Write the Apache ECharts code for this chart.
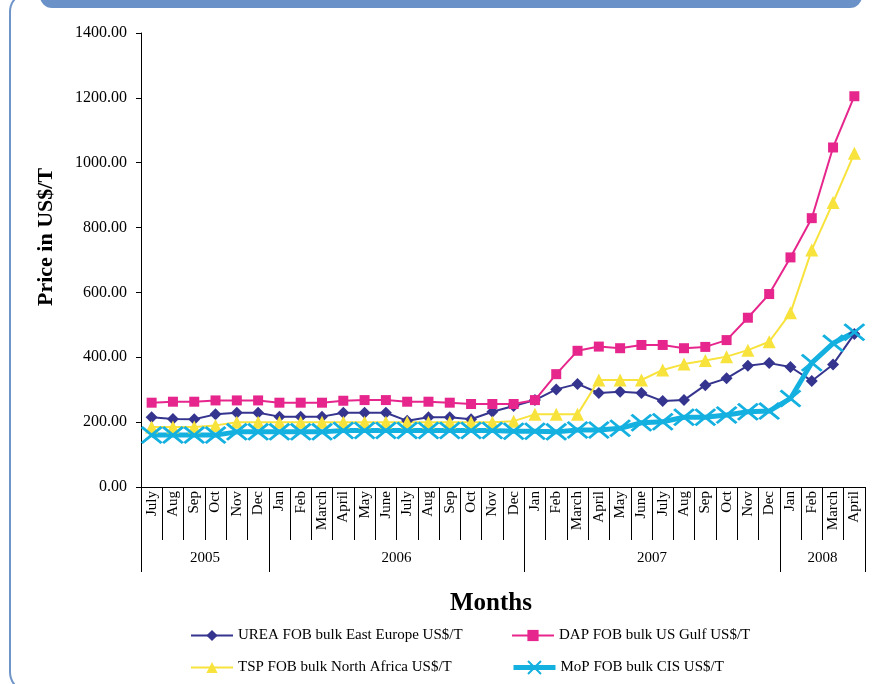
<!DOCTYPE html>
<html>
<head>
<meta charset="utf-8">
<script src="https://cdn.jsdelivr.net/npm/echarts@6/dist/echarts.min.js"></script>
<style>
  html, body { margin: 0; padding: 0; background: #ffffff; }
  #chart { width: 878px; height: 684px; }
</style>
</head>
<body>
<div id="chart"></div>
<script>
// Monthly categories, July 2005 to April 2008
const months = ['July','Aug','Sep','Oct','Nov','Dec',
  'Jan','Feb','March','April','May','June','July','Aug','Sep','Oct','Nov','Dec',
  'Jan','Feb','March','April','May','June','July','Aug','Sep','Oct','Nov','Dec',
  'Jan','Feb','March','April'];

// Year groups: label, first month index, month count
const yearNames = ['2005', '2006', '2007', '2008'];
const yearStarts = [0, 6, 18, 30];
const yearLengths = [6, 12, 12, 4];

const yTicks = [0, 200, 400, 600, 800, 1000, 1200, 1400];

const seriesNames = [
  'UREA FOB bulk East Europe US$/T',
  'DAP FOB bulk US Gulf US$/T',
  'TSP FOB bulk North Africa US$/T',
  'MoP FOB bulk CIS US$/T'
];

const urea = [215,210,209,224,229,229,217,217,217,229,229,229,204,215,215,209,232,250,
  268,301,318,290,294,290,265,268,314,335,374,382,370,327,378,472];
const dap = [260,263,263,267,267,267,260,260,260,266,268,268,263,263,260,256,256,256,
  268,348,420,433,428,438,438,428,432,453,522,595,708,829,1047,1205];
const tsp = [185,185,185,190,200,200,200,200,200,200,200,200,200,200,200,200,200,203,
  224,224,224,330,330,330,361,379,390,402,422,448,537,731,877,1029];
const mop = [160,160,160,160,170,170,170,170,170,174,174,174,174,174,174,174,174,172,
  172,170,176,176,181,198,201,215,215,222,232,234,273,383,443,477];

const SERIF = 'Liberation Serif';
const crossPath = 'path://M0,1 L1,0 L5,4 L9,0 L10,1 L6,5 L10,9 L9,10 L5,6 L1,10 L0,9 L4,5 Z';

// boundaries between years and the centre of each year span
const yearBounds = yearStarts.concat([yearStarts[3] + yearLengths[3]]);
const yearCentres = yearStarts.map((s, i) => s + yearLengths[i] / 2);

// legend placement: two columns, two rows
const legendSlots = [
  { left: 190, top: 628, h: 14, lw: 2 },
  { left: 511, top: 628, h: 14, lw: 2 },
  { left: 190, top: 660, h: 14, lw: 2 },
  { left: 511, top: 660, h: 18, lw: 5 }
];

const chart = echarts.init(document.getElementById('chart'));

chart.setOption({
  animation: false,
  backgroundColor: '#ffffff',
  textStyle: { fontFamily: SERIF, color: '#000' },
  grid: { left: 141, right: 13, top: 33, bottom: 197, containLabel: false },
  graphic: [
    {
      type: 'rect', z: -1,
      shape: { x: 40, y: -20, width: 822, height: 28, r: 12 },
      style: { fill: '#6a92c8' }
    },
    {
      type: 'rect', z: -1,
      shape: { x: 10, y: -8, width: 900, height: 700, r: 20 },
      style: { fill: 'none', stroke: '#6f95c9', lineWidth: 2 }
    },
    {
      type: 'text',
      x: 46, y: 237, rotation: Math.PI / 2,
      style: {
        text: 'Price in US$/T',
        font: 'bold 22px "Liberation Serif"',
        fill: '#000',
        align: 'center', verticalAlign: 'middle'
      }
    }
  ],
  legend: seriesNames.map((name, i) => ({
    data: [name],
    orient: 'horizontal',
    left: legendSlots[i].left, top: legendSlots[i].top,
    padding: 0,
    itemWidth: 42, itemHeight: legendSlots[i].h,
    lineStyle: { width: legendSlots[i].lw },
    textStyle: { fontFamily: SERIF, fontSize: 15, color: '#000' }
  })),
  xAxis: [
    {
      type: 'category',
      data: months,
      boundaryGap: true,
      axisLine: { lineStyle: { color: '#000', width: 1 } },
      axisTick: { show: true, interval: 0, length: 53, lineStyle: { color: '#000' } },
      axisLabel: {
        interval: 0, rotate: 90, margin: 4,
        fontFamily: SERIF, fontSize: 15, color: '#000'
      },
      splitLine: { show: false }
    },
    {
      type: 'value',
      min: 0, max: 34,
      position: 'bottom',
      axisLine: { show: false },
      axisTick: {
        show: true, length: 85, customValues: yearBounds,
        lineStyle: { color: '#000' }
      },
      axisLabel: {
        show: true, margin: 64, customValues: yearCentres,
        formatter: v => yearNames[yearCentres.indexOf(v)],
        fontFamily: SERIF, fontSize: 15, color: '#000'
      },
      splitLine: { show: false },
      name: 'Months',
      nameLocation: 'middle',
      nameGap: 104,
      nameTextStyle: {
        fontFamily: SERIF, fontSize: 25, fontWeight: 'bold', color: '#000',
        padding: [0, 24, 0, 0]
      }
    }
  ],
  yAxis: {
    type: 'value',
    min: yTicks[0], max: yTicks[yTicks.length - 1], interval: 200,
    axisLine: { show: true, lineStyle: { color: '#000' } },
    axisTick: { show: true, length: 5, lineStyle: { color: '#000' } },
    axisLabel: {
      margin: 14, formatter: v => v.toFixed(2),
      fontFamily: SERIF, fontSize: 16, color: '#000'
    },
    splitLine: { show: false }
  },
  series: [
    {
      name: seriesNames[0], type: 'line', data: urea,
      symbol: 'diamond', symbolSize: 12,
      lineStyle: { color: '#35358f', width: 2 },
      itemStyle: { color: '#35358f' }
    },
    {
      name: seriesNames[1], type: 'line', data: dap,
      symbol: 'rect', symbolSize: 10,
      lineStyle: { color: '#e6268c', width: 2 },
      itemStyle: { color: '#e6268c' }
    },
    {
      name: seriesNames[2], type: 'line', data: tsp,
      symbol: 'triangle', symbolSize: 13,
      lineStyle: { color: '#f8e23c', width: 2 },
      itemStyle: { color: '#f8e23c' }
    },
    {
      name: seriesNames[3], type: 'line', data: mop,
      symbol: crossPath, symbolSize: [22, 18],
      lineStyle: { color: '#14b0e0', width: 5 },
      itemStyle: { color: '#14b0e0' }
    }
  ]
});
</script>
</body>
</html>
